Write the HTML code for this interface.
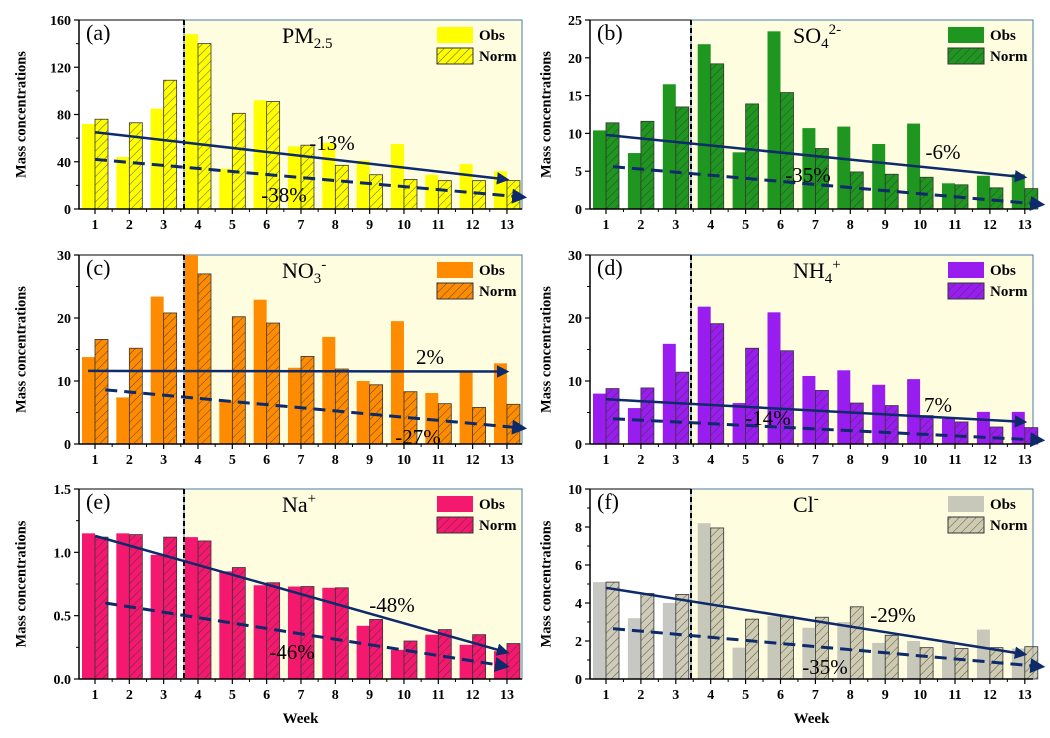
<!DOCTYPE html>
<html><head><meta charset="utf-8">
<style>
html,body{margin:0;padding:0;background:#fff;}
svg{display:block;font-family:"Liberation Serif",serif;}
.tick{font-weight:bold;font-size:14px;}
</style></head>
<body>
<svg id="chart" width="1050" height="738" viewBox="0 0 1050 738" xmlns="http://www.w3.org/2000/svg">
<defs>
<pattern id="hatch" patternUnits="userSpaceOnUse" width="6" height="6" patternTransform="rotate(45)">
<line x1="0" y1="0" x2="0" y2="6" stroke="#333" stroke-width="0.8"/>
</pattern>
<marker id="arrow" viewBox="0 0 10 10" refX="8" refY="5" markerWidth="5" markerHeight="5" orient="auto">
<path d="M0,0 L10,5 L0,10 z" fill="#0d2a6b"/>
</marker>
</defs>
</svg>
<script>
const weeks = [1,2,3,4,5,6,7,8,9,10,11,12,13];
const pmObs  = [72,44,85,148,34,92,53,56,41,55,29,38,32];
const pmNorm = [76,73,109,140,81,91,54,37,29,25,24,24,24];
const so4Obs  = [10.4,7.4,16.5,21.8,7.5,23.5,10.7,10.9,8.6,11.3,3.4,4.4,4.6];
const so4Norm = [11.4,11.6,13.5,19.2,13.9,15.4,8,4.9,4.6,4.2,3.2,2.8,2.7];
const no3Obs  = [13.8,7.4,23.4,30,6.9,22.9,12.1,17,10,19.5,8.1,11.5,12.8];
const no3Norm = [16.6,15.2,20.8,27,20.2,19.2,13.9,11.9,9.4,8.3,6.4,5.8,6.3];
const nh4Obs  = [8,5.7,15.9,21.8,6.5,20.9,10.8,11.7,9.4,10.3,4,5.1,5.1];
const nh4Norm = [8.8,8.9,11.4,19.1,15.2,14.8,8.5,6.5,6.1,4.5,3.5,2.7,2.6];
const naObs  = [1.15,1.15,0.98,1.12,0.85,0.74,0.73,0.72,0.42,0.23,0.35,0.27,0.22];
const naNorm = [1.12,1.14,1.12,1.09,0.88,0.76,0.73,0.72,0.47,0.30,0.39,0.35,0.28];
const clObs  = [5.1,3.2,4.0,8.2,1.65,3.3,2.7,3.0,1.9,2.0,1.9,2.6,1.6];
const clNorm = [5.1,4.5,4.45,7.95,3.15,3.3,3.25,3.8,2.3,1.65,1.6,1.65,1.7];
const pmTicks = [0,40,80,120,160];
const so4Ticks = [0,5,10,15,20,25];
const no3Ticks = [0,10,20,30];
const nh4Ticks = [0,10,20,30];
const naTicks = [0,0.5,1.0,1.5];
const clTicks = [0,2,4,6,8,10];
// trend lines: [week1, value1, week2, value2]
const pmSolid=[1,65,13,25], pmDash=[1,42,13.5,10];
const so4Solid=[1,9.8,13,4.2], so4Dash=[1.2,5.6,13.5,0.6];
const no3Solid=[0.8,11.6,13,11.5], no3Dash=[1.3,8.6,13.5,2.5];
const nh4Solid=[1,7.1,13,3.5], nh4Dash=[1.2,4,13.5,0.6];
const naSolid=[1,1.13,13,0.21], naDash=[1.3,0.6,13,0.1];
const clSolid=[1,4.8,13,1.3], clDash=[1.2,2.65,13.5,0.65];
const pmLabels=["-13%","-38%"], so4Labels=["-6%","-35%"], no3Labels=["2%","-27%"], nh4Labels=["7%","-14%"], naLabels=["-48%","-46%"], clLabels=["-29%","-35%"];

const NS="http://www.w3.org/2000/svg";
const svg=document.getElementById('chart');
function mk(tag,attrs,parent){const e=document.createElementNS(NS,tag);for(const k in attrs)e.setAttribute(k,attrs[k]);(parent||svg).appendChild(e);return e;}

const panels=[
 {id:'a',title:'PM',sub:'2.5',sup:'',obs:pmObs,norm:pmNorm,ticks:pmTicks,minor:true,solid:pmSolid,dash:pmDash,labels:pmLabels,lpos:[[332,150],[284,202]],color:'#ffff00',x0:79,x1:522,w1:95,step:34.33,yTop:20,yBot:209,split:184,ytitle:22,week:false},
 {id:'b',title:'SO',sub:'4',sup:'2-',obs:so4Obs,norm:so4Norm,ticks:so4Ticks,minor:false,solid:so4Solid,dash:so4Dash,labels:so4Labels,lpos:[[943,159],[808,182]],color:'#1f961f',x0:590,x1:1033,w1:606,step:34.9,yTop:20,yBot:209,split:691,ytitle:547,week:false},
 {id:'c',title:'NO',sub:'3',sup:'-',obs:no3Obs,norm:no3Norm,ticks:no3Ticks,minor:true,solid:no3Solid,dash:no3Dash,labels:no3Labels,lpos:[[430,364],[418,444]],color:'#ff8c00',x0:79,x1:522,w1:95,step:34.33,yTop:255,yBot:444,split:184,ytitle:22,week:false},
 {id:'d',title:'NH',sub:'4',sup:'+',obs:nh4Obs,norm:nh4Norm,ticks:nh4Ticks,minor:true,solid:nh4Solid,dash:nh4Dash,labels:nh4Labels,lpos:[[938,412],[768,425]],color:'#9a1df0',x0:590,x1:1033,w1:606,step:34.9,yTop:255,yBot:444,split:691,ytitle:547,week:false},
 {id:'e',title:'Na',sub:'',sup:'+',obs:naObs,norm:naNorm,ticks:naTicks,minor:true,solid:naSolid,dash:naDash,labels:naLabels,lpos:[[392,612],[292,659]],color:'#f5186f',x0:79,x1:522,w1:95,step:34.33,yTop:489,yBot:679,split:184,ytitle:22,week:true},
 {id:'f',title:'Cl',sub:'',sup:'-',obs:clObs,norm:clNorm,ticks:clTicks,minor:true,solid:clSolid,dash:clDash,labels:clLabels,lpos:[[893,622],[825,674]],color:'rgba(175,175,170,0.7)',normColor:'rgba(190,185,160,0.75)',x0:590,x1:1033,w1:606,step:34.9,yTop:489,yBot:679,split:691,ytitle:547,week:true}
];

panels.forEach(p=>{
 const g=mk('g',{});
 
 
 const ymax=p.ticks[p.ticks.length-1];
 const X=w=>p.w1+(w-1)*p.step;
 const Y=v=>p.yBot-(v/ymax)*(p.yBot-p.yTop);
 const sh=mk('rect',{x:p.split,y:p.yTop,width:p.x1-p.split,height:p.yBot-p.yTop,fill:'#fffde0',stroke:'#4a7aa8','stroke-width':1},g);
 
 
 const bw=13;
 weeks.forEach((w,i)=>{
  const cx=X(w);
  const ob=mk('rect',{x:cx-bw,y:Y(p.obs[i]),width:bw,height:p.yBot-Y(p.obs[i]),fill:p.color},g);
  
  
  const nc=p.normColor||p.color;
  const nb=mk('rect',{x:cx,y:Y(p.norm[i]),width:bw,height:p.yBot-Y(p.norm[i]),fill:nc,stroke:'#333','stroke-width':0.8},g);
  
  
  mk('rect',{x:cx,y:Y(p.norm[i]),width:bw,height:p.yBot-Y(p.norm[i]),fill:'url(#hatch)'},g);
 });
 const sl=mk('line',{x1:p.split,y1:p.yTop,x2:p.split,y2:p.yBot,stroke:'#000','stroke-width':2,'stroke-dasharray':'5,3'},g);
 
 
 mk('line',{x1:p.x0,y1:p.yTop,x2:p.x0,y2:p.yBot,stroke:'#000','stroke-width':1.5},g);
 mk('line',{x1:p.x0,y1:p.yBot,x2:p.x1,y2:p.yBot,stroke:'#000','stroke-width':1.5},g);
 mk('line',{x1:p.x0,y1:p.yTop,x2:p.split,y2:p.yTop,stroke:'#000','stroke-width':1},g);
 p.ticks.forEach((t,i)=>{
  const y=Y(t);
  mk('line',{x1:p.x0-5,y1:y,x2:p.x0,y2:y,stroke:'#000','stroke-width':1.2},g);
  const tx=mk('text',{x:p.x0-8,y:y+5,'text-anchor':'end',class:'tick'},g);
  tx.textContent=(ymax===1.5)?t.toFixed(1):t;
  
  
  if(p.minor&&i<p.ticks.length-1){const ym=Y((t+p.ticks[i+1])/2);mk('line',{x1:p.x0-3,y1:ym,x2:p.x0,y2:ym,stroke:'#000'},g);}
 });
 weeks.forEach(w=>{
  const x=X(w);
  mk('line',{x1:x,y1:p.yBot,x2:x,y2:p.yBot+5,stroke:'#000','stroke-width':1.2},g);
  if(w<13){mk('line',{x1:x+p.step/2,y1:p.yBot,x2:x+p.step/2,y2:p.yBot+3,stroke:'#000'},g);}
  const tx=mk('text',{x:x,y:p.yBot+20,'text-anchor':'middle',class:'tick'},g);
  tx.textContent=w;
  
  
 });
 const yc=(p.yTop+p.yBot)/2;
 const yt=mk('text',{x:p.ytitle,y:yc,transform:`rotate(-90 ${p.ytitle} ${yc})`,'text-anchor':'middle','dominant-baseline':'middle','font-weight':'bold','font-size':'14.5px'},g);
 yt.textContent='Mass concentrations';
 
 
 if(p.week){
  const wt=mk('text',{x:(p.x0+p.x1)/2,y:p.yBot+44,'text-anchor':'middle','font-weight':'bold','font-size':'15px'},g);
  wt.textContent='Week';
  
  
 }
 const pl=mk('text',{x:p.x0+7,y:p.yTop+20,'font-size':'22px'},g);
 pl.textContent='('+p.id+')';
 
 
 const tt=mk('text',{x:p.x0+203,y:p.yTop+23,'font-size':'22px'},g);
 
 
 tt.appendChild(document.createTextNode(p.title));
 if(p.sub){const s=mk('tspan',{dy:5,'font-size':'15px'},tt);s.textContent=p.sub;}
 if(p.sup){const s=mk('tspan',{dy:p.sub?-14:-9,'font-size':'15px'},tt);s.textContent=p.sup;}
 const lx=p.x1-85;
 const lo=mk('rect',{x:lx,y:p.yTop+7,width:36,height:16,fill:p.color},g);
 
 
 const ln=mk('rect',{x:lx,y:p.yTop+28,width:36,height:16,fill:p.normColor||p.color,stroke:'#333'},g);
 
 
 mk('rect',{x:lx,y:p.yTop+28,width:36,height:16,fill:'url(#hatch)'},g);
 const t1=mk('text',{x:lx+42,y:p.yTop+20,'font-weight':'bold','font-size':'15px'},g);t1.textContent='Obs';
 
 
 const t2=mk('text',{x:lx+42,y:p.yTop+41,'font-weight':'bold','font-size':'15px'},g);t2.textContent='Norm';
 
 
 const s=p.solid,d=p.dash;
 const ls=mk('line',{x1:X(s[0]),y1:Y(s[1]),x2:X(s[2]),y2:Y(s[3]),stroke:'#0d2a6b','stroke-width':2.5,'marker-end':'url(#arrow)'},g);
 
 
 const ld=mk('line',{x1:X(d[0]),y1:Y(d[1]),x2:X(d[2]),y2:Y(d[3]),stroke:'#0d2a6b','stroke-width':3,'stroke-dasharray':'12,7','marker-end':'url(#arrow)'},g);
 
 
 p.labels.forEach((lab,i)=>{
  const t=mk('text',{x:p.lpos[i][0],y:p.lpos[i][1],'text-anchor':'middle','font-size':'21px'},g);
  t.textContent=lab;
  
  
 });
});
</script>
</body></html>
